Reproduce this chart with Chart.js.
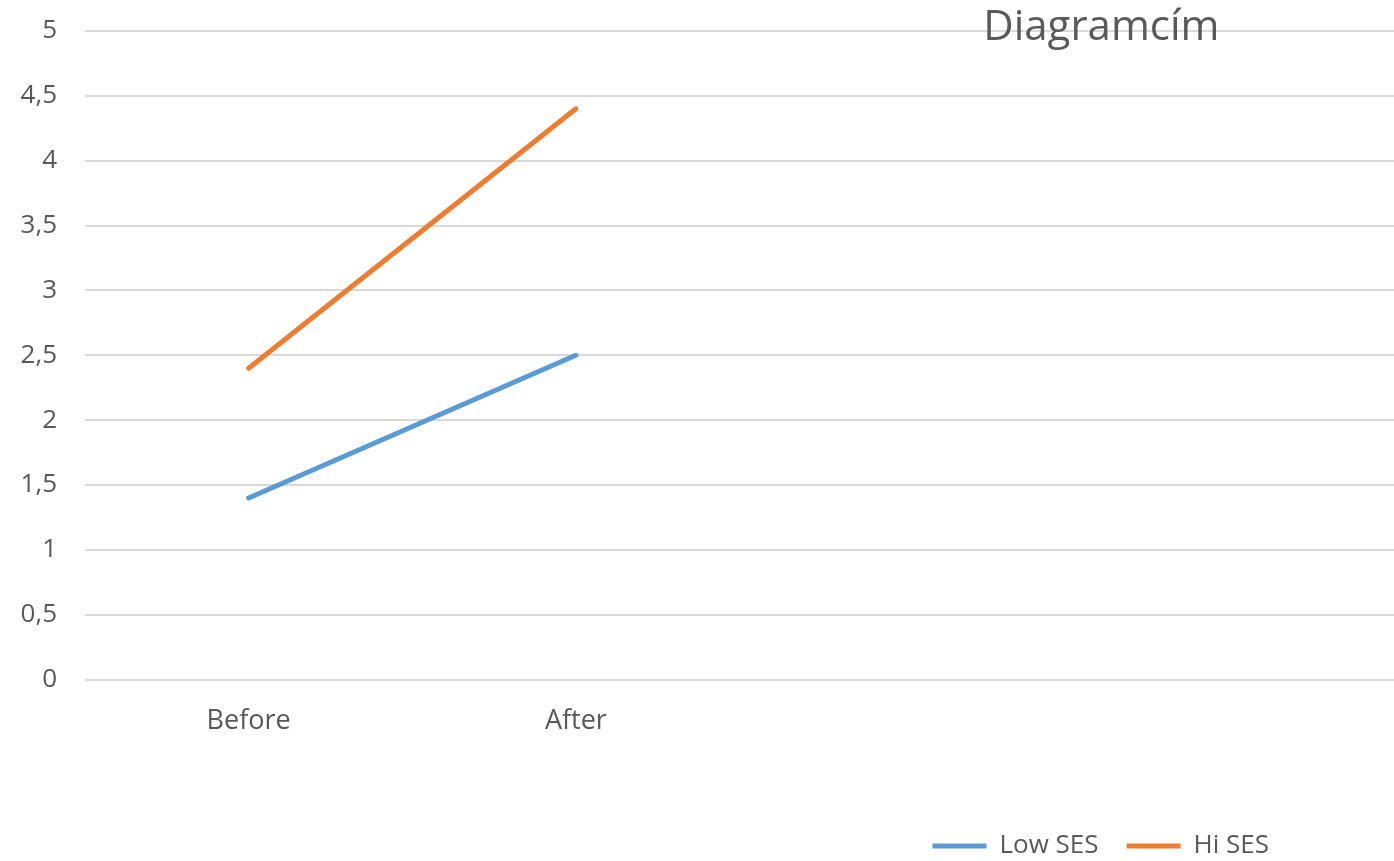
<!DOCTYPE html>
<html>
<head>
<meta charset="utf-8">
<script src="https://cdn.jsdelivr.net/npm/chart.js@4"></script>
<style>
  html, body { margin: 0; padding: 0; background: #fff; }
  #wrap { width: 1394px; height: 861px; }
</style>
</head>
<body>
<div id="wrap"><canvas id="lineChart"></canvas></div>
<script>
// adatok
const categories = ['Before', 'After', '', ''];
const lowSes = [1.4, 2.5, null, null];
const hiSes = [2.4, 4.4, null, null];
const chartTitle = 'Diagramcím';

const textColor = '#595959';
const fontFamily = "'Open Sans', 'Liberation Sans', sans-serif";

// cím a rajzterület fölé, jobbra (mint az Excelben)
const titleOverlay = {
  id: 'titleOverlay',
  afterDraw(chart) {
    const ctx = chart.ctx;
    ctx.save();
    ctx.font = '42px ' + fontFamily;
    ctx.fillStyle = textColor;
    ctx.textAlign = 'center';
    ctx.textBaseline = 'middle';
    ctx.fillText(chartTitle, chart.width * 0.79, 28);
    ctx.restore();
  }
};

// jelmagyarázat kicsit beljebb a jobb széltől és lejjebb
const legendShift = {
  id: 'legendShift',
  afterLayout(chart) {
    const lg = chart.legend;
    if (lg) {
      lg.left -= 97;
      lg.right -= 97;
      lg.top += 8;
      lg.bottom += 8;
    }
  }
};

new Chart(document.getElementById('lineChart'), {
  type: 'line',
  data: {
    labels: categories,
    datasets: [{
      label: 'Low SES',
      data: lowSes,
      borderColor: '#5b9bd5',
      backgroundColor: '#5b9bd5',
      borderWidth: 5,
      pointRadius: 0,
      pointStyle: 'line',
      borderCapStyle: 'round'
    }, {
      label: 'Hi SES',
      data: hiSes,
      borderColor: '#ed7d31',
      backgroundColor: '#ed7d31',
      borderWidth: 5,
      pointRadius: 0,
      pointStyle: 'line',
      borderCapStyle: 'round'
    }]
  },
  plugins: [titleOverlay, legendShift],
  options: {
    responsive: true,
    maintainAspectRatio: false,
    animation: false,
    layout: {
      padding: 0
    },
    scales: {
      x: {
        offset: true,
        grid: { display: false },
        border: { display: false },
        afterFit: (scale) => { scale.height += 41; },
        ticks: {
          color: textColor,
          font: { family: fontFamily, size: 27 },
          padding: 18,
          maxRotation: 0
        }
      },
      y: {
        min: 0,
        max: 5,
        grid: { color: '#d9d9d9', lineWidth: 2, drawTicks: false },
        border: { display: false },
        afterFit: (scale) => {
          scale.width = 85;
          scale.paddingTop = 31;
        },
        ticks: {
          stepSize: 0.5,
          color: textColor,
          font: { family: fontFamily, size: 26 },
          padding: 28,
          callback: (v) => String(v).replace('.', ',')
        }
      }
    },
    plugins: {
      legend: {
        position: 'bottom',
        align: 'end',
        labels: {
          color: textColor,
          font: { family: fontFamily, size: 26 },
          usePointStyle: true,
          pointStyleWidth: 54,
          padding: 28
        }
      },
      title: { display: false },
      tooltip: { enabled: false }
    }
  }
});
</script>
</body>
</html>
